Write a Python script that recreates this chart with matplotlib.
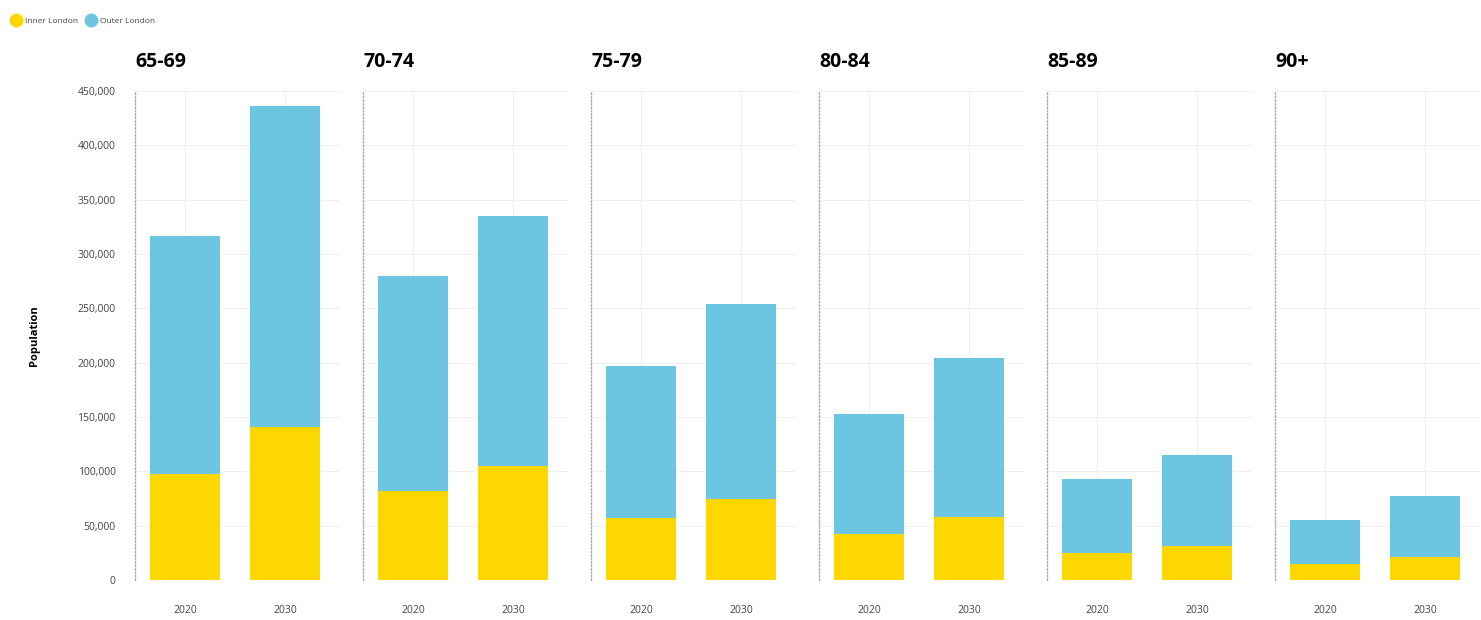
import numpy as np
import matplotlib.pyplot as plt
from matplotlib.lines import Line2D
from matplotlib.ticker import FuncFormatter

plt.rcParams['font.family'] = ['Open Sans', 'DejaVu Sans']

# Population projections by age band, London
age_groups = ['65-69', '70-74', '75-79', '80-84', '85-89', '90+']
years = ['2020', '2030']
inner_london = [[97500, 141000], [82000, 105000], [57000, 75000],
                [42000, 58000], [25000, 31000], [15000, 21000]]
total_london = [[317000, 436000], [280000, 335000], [197000, 254000],
                [153000, 204000], [93000, 115000], [55000, 77000]]
outer_london = [[t - i for t, i in zip(tr, ir)] for tr, ir in zip(total_london, inner_london)]

yellow = '#FDD700'
blue = '#6CC6E2'

fig = plt.figure(figsize=(14.81, 6.2), dpi=100)

left0 = 135 / 1481
width = 205 / 1481
step = 228 / 1481
bottom = 1 - 580 / 620
height = (580 - 91) / 620

x = np.arange(len(years))
for k, grp in enumerate(age_groups):
    ax = fig.add_axes([left0 + k * step, bottom, width, height])
    ax.bar(x, inner_london[k], width=0.7, color=yellow, zorder=3)
    ax.bar(x, outer_london[k], width=0.7, bottom=inner_london[k], color=blue, zorder=3)
    ax.set_xlim(-0.5, 1.55)
    ax.set_ylim(0, 450000)
    ax.set_yticks(np.arange(0, 450001, 50000))
    ax.set_xticks(x)
    ax.set_xticklabels(years, fontsize=7.5, color='#444444')
    ax.grid(True, color='#f0f0f0', linewidth=0.8, zorder=0)
    for s in ['top', 'right', 'bottom']:
        ax.spines[s].set_visible(False)
    ax.spines['left'].set_linestyle((0, (1, 1.5)))
    ax.spines['left'].set_color('#aaaaaa')
    ax.spines['left'].set_linewidth(1.0)
    ax.tick_params(axis='both', length=0)
    ax.tick_params(axis='x', pad=18)
    ax.set_title(grp, loc='left', fontsize=14, fontweight='bold', pad=17, x=0.0)
    if k == 0:
        ax.yaxis.set_major_formatter(FuncFormatter(lambda v, p: f'{int(v):,}'))
        ax.tick_params(axis='y', labelsize=7.5, labelcolor='#444444', pad=14)
        ax.set_ylabel('Population', fontsize=8, fontweight='bold', labelpad=27)
    else:
        ax.set_yticklabels([])

handles = [Line2D([], [], marker='o', linestyle='none', markersize=9, color=yellow),
           Line2D([], [], marker='o', linestyle='none', markersize=9, color=blue)]
fig.legend(handles, ['Inner London', 'Outer London'], loc='upper left',
           bbox_to_anchor=(0.0, 0.985), ncol=2, frameon=False, fontsize=6,
           handletextpad=0.1, columnspacing=0.6, labelcolor='#444444')

fig.savefig('out.png', dpi=100)
